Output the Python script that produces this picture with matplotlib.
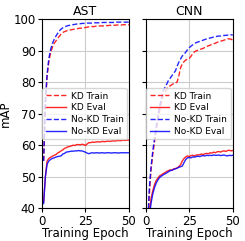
import matplotlib
matplotlib.use("Agg")
import matplotlib.pyplot as plt
import numpy as np

epochs = list(range(1, 51))

ast_kd_train = [55, 73, 82, 86.5, 89.3, 91, 92.2, 93, 93.8, 94.5, 95.2, 95.7, 96.0, 96.2, 96.4,
                96.5, 96.6, 96.7, 96.8, 96.9, 97.0, 97.1, 97.1, 97.2, 97.3, 97.4, 97.5, 97.5, 97.6, 97.6,
                97.7, 97.7, 97.8, 97.8, 97.8, 97.9, 97.9, 97.9, 98.0, 98.0, 98.0, 98.0, 98.1, 98.1, 98.1,
                98.1, 98.2, 98.2, 98.2, 98.2]
ast_kd_eval = [42, 50, 55, 55.8, 56.2, 56.5, 56.8, 57.0, 57.5, 57.8, 58.2, 58.5, 59.0, 59.2, 59.5,
               59.6, 59.8, 60.0, 59.9, 60.2, 60.2, 60.1, 60.3, 60.2, 59.9, 60.4, 60.8, 60.8, 61.0, 60.9,
               61.0, 61.1, 61.0, 61.1, 61.2, 61.1, 61.2, 61.3, 61.2, 61.3, 61.4, 61.3, 61.4, 61.5, 61.4,
               61.5, 61.6, 61.5, 61.6, 61.6]
ast_nokd_train = [55, 74, 82.5, 87.5, 90.3, 92.2, 93.5, 94.5, 95.4, 96.2, 96.8, 97.2, 97.5, 97.7, 97.9,
                  98.0, 98.1, 98.2, 98.3, 98.4, 98.5, 98.5, 98.6, 98.6, 98.6, 98.7, 98.7, 98.7, 98.7, 98.8,
                  98.8, 98.8, 98.8, 98.8, 98.9, 98.9, 98.9, 98.9, 98.9, 98.9, 98.9, 99.0, 99.0, 99.0, 99.0,
                  99.0, 99.0, 99.0, 99.0, 99.0]
ast_nokd_eval = [41.5, 50, 54, 55, 55.5, 55.8, 56.0, 56.2, 56.4, 56.5, 56.6, 57.2, 57.4, 57.8, 57.9,
                 58.0, 58.1, 58.1, 58.2, 58.2, 58.3, 58.2, 58.2, 58.0, 57.8, 57.5, 57.3, 57.5, 57.6, 57.5,
                 57.6, 57.6, 57.5, 57.6, 57.6, 57.5, 57.6, 57.6, 57.6, 57.5, 57.6, 57.6, 57.6, 57.5, 57.6,
                 57.6, 57.6, 57.6, 57.6, 57.6]

cnn_kd_train = [33, 44, 52, 57, 61, 64.5, 68, 71, 73.5, 75.5, 76.8, 77.8, 78.5, 78.8, 79.2,
                79.5, 79.7, 80.0, 82.0, 84.5, 85.8, 86.5, 87.0, 87.3, 87.5, 88.2, 89.0, 89.6, 89.9, 90.1,
                90.3, 90.5, 90.7, 91.0, 91.3, 91.5, 91.7, 92.0, 92.2, 92.3, 92.6, 92.8, 93.0, 93.1, 93.3,
                93.5, 93.7, 93.7, 93.6, 93.3]
cnn_kd_eval = [30, 38, 43, 45.5, 47.5, 48.8, 49.6, 50.3, 50.6, 51.0, 51.3, 51.7, 51.9, 52.2, 52.0,
               52.5, 52.6, 52.8, 53.2, 53.8, 55.0, 55.8, 56.3, 56.6, 56.4, 56.7, 56.8, 56.6, 56.9, 56.9,
               57.0, 57.2, 57.0, 57.3, 57.4, 57.3, 57.6, 57.5, 57.8, 57.6, 57.9, 58.0, 57.8, 58.1, 58.2,
               58.0, 58.3, 58.4, 58.2, 58.3]
cnn_nokd_train = [33, 46, 53, 58, 62, 66, 69.5, 72.5, 75, 77.3, 78.3, 79.3, 80.5, 81.2, 82.0,
                  82.8, 83.5, 85.0, 86.3, 87.3, 88.3, 88.8, 89.5, 90.3, 90.9, 91.4, 91.8, 92.2, 92.5, 92.7,
                  92.9, 93.1, 93.3, 93.5, 93.7, 93.8, 94.0, 94.1, 94.3, 94.4, 94.5, 94.6, 94.6, 94.7, 94.8,
                  94.8, 94.9, 94.9, 95.0, 94.9]
cnn_nokd_eval = [28, 37, 41.5, 44.5, 46.5, 48, 49, 49.8, 50.2, 50.6, 50.9, 51.2, 51.6, 51.9, 52.1,
                 52.3, 52.5, 52.7, 53.0, 53.2, 53.4, 54.5, 55.5, 56.0, 56.1, 56.0, 56.3, 56.2, 56.4, 56.5,
                 56.4, 56.6, 56.7, 56.6, 56.8, 56.7, 56.8, 56.7, 56.9, 56.8, 56.8, 56.9, 56.7, 56.8, 56.9,
                 56.7, 56.6, 56.8, 56.7, 56.8]

titles = ["AST", "CNN"]
labels = ["KD Train", "KD Eval", "No-KD Train", "No-KD Eval"]
yticks = [40, 50, 60, 70, 80, 90, 100]
xticks = [0, 25, 50]

panels = [
    (ast_kd_train, ast_kd_eval, ast_nokd_train, ast_nokd_eval),
    (cnn_kd_train, cnn_kd_eval, cnn_nokd_train, cnn_nokd_eval),
]

fig = plt.figure(figsize=(2.45, 2.41), dpi=100)
ax1 = fig.add_axes([0.171, 0.1357, 0.355, 0.7855])
ax2 = fig.add_axes([0.595, 0.1357, 0.355, 0.7855], sharey=ax1)

styles = [("red", "--"), ("red", "-"), ("blue", "--"), ("blue", "-")]

for ax, title, series in zip([ax1, ax2], titles, panels):
    for s, (c, ls), lab in zip(series, styles, labels):
        ax.plot(epochs, s, color=c, linestyle=ls, lw=1.0, alpha=0.85, label=lab)
    ax.set_xlim(0, 50)
    ax.set_ylim(40, 100)
    ax.set_xticks(xticks)
    ax.set_yticks(yticks)
    ax.grid(True, color="#cccccc", lw=0.8)
    ax.set_axisbelow(True)
    ax.set_title(title, fontsize=9, pad=3)
    ax.set_xlabel("Training Epoch", fontsize=8.5, labelpad=-0.5)
    ax.tick_params(labelsize=8.5, length=3, pad=1.5)
    ax.legend(loc="center right", fontsize=6.5, borderaxespad=0.2,
              handlelength=2.2, labelspacing=0.3, borderpad=0.4, handletextpad=0.55)

ax1.set_ylabel("mAP", fontsize=8.5, labelpad=1)
plt.setp(ax2.get_yticklabels(), visible=False)

fig.savefig("out.png", dpi=100)
